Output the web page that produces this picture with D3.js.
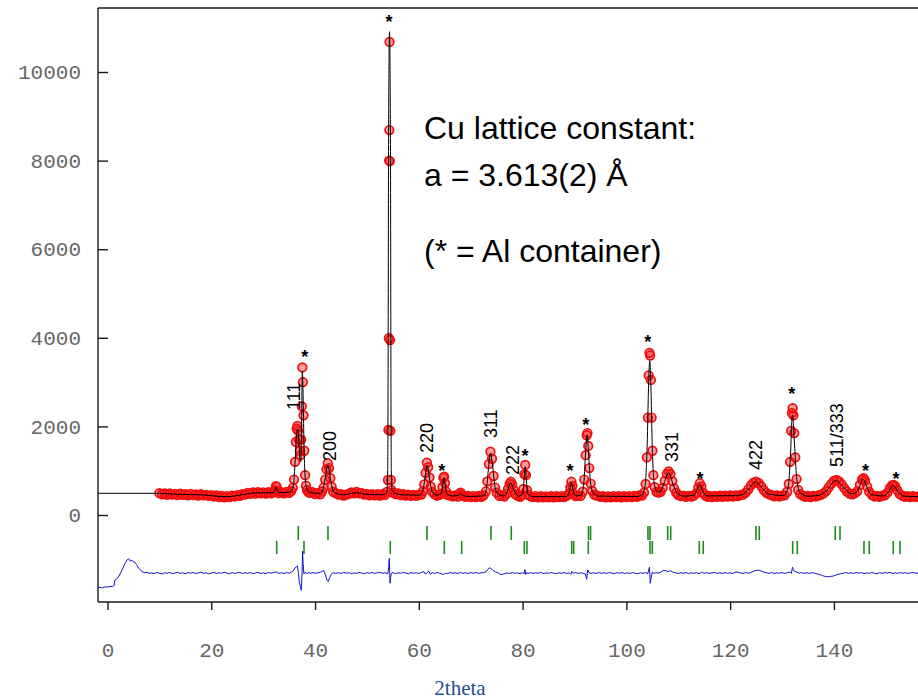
<!DOCTYPE html>
<html>
<head>
<meta charset="utf-8">
<script src="https://cdn.jsdelivr.net/npm/d3@7"></script>
<style>
  html, body { margin: 0; padding: 0; background: #fff; }
  svg { display: block; }
</style>
</head>
<body>
<script>
// ---- Data: Rietveld refinement of Cu powder in an Al container ----

// Observed intensities [2theta, counts]
const observed = [
  [10,492],[10.5,468],[11,485],[11.5,455],[12,490],[12.5,462],[13,478],[13.5,450],[14,482],[14.5,455],
  [15,470],[15.5,445],[16,478],[16.5,450],[17,466],[17.5,440],[18,468],[18.5,442],[19,456],[19.5,430],
  [20,450],[20.5,418],[21,440],[21.5,402],[22,430],[22.5,398],[23,428],[23.5,405],[24,436],[24.5,418],
  [25,450],[25.5,432],[26,470],[26.5,458],[27,498],[27.5,475],[28,510],[28.5,482],[29,515],[29.5,488],
  [30,512],[30.5,484],[31,515],[31.5,490],[32,512],[32.25,560],[32.45,650],[32.6,640],[32.8,540],[33,495],
  [33.5,518],[34,490],[34.5,520],[35,500],[35.4,540],[35.7,610],[35.95,800],[36.15,1200],[36.3,1650],[36.45,1950],
  [36.6,2010],[36.75,1900],[36.9,1700],[37.05,1450],[37.2,1350],[37.32,1700],[37.44,2450],[37.55,3330],[37.66,3000],[37.78,2250],
  [37.92,1450],[38.08,900],[38.25,660],[38.45,560],[38.7,515],[39,498],[39.5,515],[40,470],[40.5,495],[41,468],
  [41.35,530],[41.65,620],[41.95,800],[42.2,1030],[42.45,1170],[42.7,1060],[42.95,830],[43.2,640],[43.5,520],[44,495],
  [44.5,458],[45,470],[45.5,440],[46,462],[46.5,475],[47,508],[47.5,490],[48,522],[48.5,488],[49,496],
  [49.5,460],[50,478],[50.5,445],[51,470],[51.5,442],[52,468],[52.5,440],[53,472],[53.5,455],[53.85,520],
  [54.05,790],[54.15,1920],[54.22,3990],[54.28,8000],[54.32,8690],[54.36,10680],[54.41,7990],[54.46,3950],[54.52,1900],[54.6,790],
  [54.75,560],[55,505],[55.5,470],[56,485],[56.5,450],[57,468],[57.5,438],[58,460],[58.5,432],[59,455],
  [59.5,430],[60,458],[60.5,462],[60.8,540],[61.05,690],[61.3,950],[61.55,1180],[61.8,1080],[62.05,850],[62.3,640],
  [62.6,520],[63,470],[63.5,435],[64,455],[64.3,480],[64.55,630],[64.72,840],[64.88,865],[65.05,720],[65.25,530],
  [65.5,455],[66,440],[66.5,418],[67,445],[67.5,415],[67.85,475],[68.05,505],[68.3,450],[68.6,432],[69,408],
  [69.5,430],[70,402],[70.5,428],[71,405],[71.5,430],[72,410],[72.5,445],[72.9,530],[73.2,760],[73.5,1150],
  [73.8,1430],[74.1,1270],[74.4,880],[74.7,620],[75,505],[75.5,430],[76,440],[76.5,418],[76.9,480],[77.2,590],
  [77.5,710],[77.75,750],[78,690],[78.3,560],[78.6,470],[79,440],[79.5,412],[79.9,450],[80.15,590],[80.35,920],
  [80.5,1130],[80.65,900],[80.85,560],[81.1,455],[81.5,425],[82,402],[82.5,428],[83,398],[83.5,425],[84,396],
  [84.5,422],[85,400],[85.5,426],[86,398],[86.5,424],[87,402],[87.5,428],[88,405],[88.5,430],[88.9,475],
  [89.2,620],[89.4,750],[89.6,655],[89.85,480],[90.2,425],[90.7,438],[91.2,430],[91.6,525],[91.9,800],[92.15,1350],
  [92.35,1800],[92.5,1850],[92.65,1560],[92.85,1060],[93.1,710],[93.4,545],[93.8,460],[94.3,440],[95,410],[95.5,425],
  [96,398],[96.5,422],[97,400],[97.5,428],[98,402],[98.5,425],[99,398],[99.5,426],[100,404],[100.5,428],
  [101,405],[101.5,430],[102,412],[102.5,440],[103,438],[103.4,505],[103.7,700],[103.95,1300],[104.15,2200],[104.3,3150],
  [104.45,3660],[104.58,3600],[104.72,3050],[104.87,2200],[105.02,1450],[105.2,900],[105.45,630],[105.8,520],[106.2,505],[106.6,525],
  [107,610],[107.4,770],[107.8,930],[108.15,985],[108.5,925],[108.85,765],[109.2,600],[109.6,505],[110,448],[110.5,425],
  [111,435],[111.5,408],[112,430],[112.5,415],[113,440],[113.5,490],[113.85,620],[114.15,715],[114.45,645],[114.8,505],
  [115.2,440],[115.7,412],[116,432],[116.5,405],[117,430],[117.5,410],[118,435],[118.5,412],[119,438],[119.5,415],
  [120,440],[120.5,418],[121,445],[121.5,428],[122,452],[122.5,458],[123,505],[123.5,580],[124,670],[124.5,730],
  [125,752],[125.5,720],[126,645],[126.5,560],[127,500],[127.5,465],[128,448],[128.5,422],[129,440],[129.5,418],
  [130,438],[130.5,445],[131,525],[131.3,700],[131.55,1200],[131.75,1900],[131.9,2300],[132.05,2410],[132.2,2250],[132.35,1850],
  [132.55,1300],[132.8,810],[133.1,565],[133.5,470],[134,438],[134.5,412],[135,430],[135.5,405],[136,432],[136.5,418],
  [137,440],[137.5,455],[138,488],[138.5,540],[139,625],[139.5,705],[140,770],[140.5,792],[141,760],[141.5,690],
  [142,605],[142.5,530],[143,482],[143.5,468],[144,488],[144.5,535],[145,680],[145.4,800],[145.7,830],[146,780],
  [146.4,640],[146.8,520],[147.3,455],[147.8,418],[148.3,432],[148.8,410],[149.3,435],[149.8,445],[150.3,505],[150.8,610],
  [151.2,670],[151.5,682],[151.8,650],[152.2,560],[152.7,470],[153.2,430],[153.7,412],[154.2,428],[154.7,405],[155.2,425],
  [155.7,408],[156.2,422],[157,410]
];

// Calculated profile [2theta, counts]
const calculated = [
  [-1.83,490],[10,488],[12,475],[14,466],[16,462],[18,455],[20,436],[21.5,420],[23,414],[24.5,428],
  [26,460],[27.5,488],[29,500],[31.5,502],[32.1,510],[32.3,570],[32.5,630],[32.7,570],[32.95,508],[34,505],
  [35,512],[35.5,545],[35.9,740],[36.2,1300],[36.5,1900],[36.7,1940],[36.9,1600],[37.1,1250],[37.25,1200],[37.4,1900],
  [37.55,3250],[37.7,2700],[37.85,1700],[38.05,950],[38.3,640],[38.7,530],[39.5,500],[41,485],[41.5,560],[41.9,800],
  [42.45,1120],[42.95,840],[43.4,570],[44,490],[45.5,455],[47,490],[48,505],[49,485],[50.5,462],[53,458],
  [53.85,520],[54,1000],[54.05,2000],[54.1,4500],[54.17,8500],[54.35,10910],[54.53,8500],[54.6,4500],[54.65,2000],[54.7,1000],
  [54.85,560],[55.3,490],
  [57,455],[60,448],[60.7,520],[61.1,760],[61.6,1130],[62.1,790],[62.6,520],[63.5,450],[64.3,475],[64.6,660],
  [64.85,845],[65.1,660],[65.4,480],[66.5,430],[67.7,445],[68.05,490],[68.4,440],[70,418],[72.5,435],[73,570],
  [73.4,1020],[73.8,1400],[74.2,1130],[74.7,620],[75.3,470],[76.3,430],[77,520],[77.7,725],[78.4,545],[79.2,428],
  [80,470],[80.3,820],[80.5,1090],[80.7,820],[81,480],[82,415],[88.5,415],[89,530],[89.4,730],[89.8,520],
  [90.4,432],[91.3,455],[91.8,720],[92.2,1520],[92.45,1810],[92.7,1400],[93.1,720],[93.6,500],[94.5,428],[102,418],
  [103,452],[103.6,660],[104,1550],[104.3,3000],[104.5,3480],[104.7,3000],[105,1500],[105.4,690],[106,525],[106.5,525],
  [107.3,730],[108.15,955],[109,690],[109.8,490],[111,425],[113,445],[113.6,565],[114.15,690],[114.7,545],[115.5,430],
  [121,436],[122.5,470],[123.5,580],[124.9,742],[126.3,590],[127.5,470],[130.3,440],[131.2,640],[131.6,1300],[132,2260],
  [132.4,1600],[132.8,860],[133.4,510],[135,425],[137,442],[138.5,545],[140.3,775],[142,610],[143.3,480],[144.3,505],
  [145,660],[145.6,815],[146.3,650],[147.2,460],[149.5,430],[150.5,525],[151.4,665],[152.4,525],[153.5,425],[157,412]
];

// Difference curve (obs - calc, drawn with an offset) [2theta, counts]
const difference = [
  [-1.83,-1630],[-1,-1645],[-0.5,-1620],[0,-1630],[0.5,-1610],[1,-1615],[1.3,-1590],[1.4,-1470],[1.8,-1440],[2.2,-1380],
  [2.6,-1290],[3,-1190],[3.4,-1090],[3.8,-1010],[4.1,-990],[4.4,-1040],[4.7,-1020],[5,-1060],[5.3,-1070],[5.6,-1120],
  [6,-1200],[6.4,-1250],[6.8,-1285],[7.2,-1300],[7.6,-1290],[8,-1318],[8.5,-1305],[9,-1322],[9.5,-1298],[10,-1315],
  [10.5,-1330],[11,-1302],[11.5,-1318],[12,-1296],[12.5,-1325],[13,-1310],[13.5,-1292],[14,-1320],[14.5,-1305],[15,-1328],
  [15.5,-1300],[16,-1315],[16.5,-1297],[17,-1322],[17.5,-1308],[18,-1290],[18.5,-1318],[19,-1302],[19.5,-1326],[20,-1311],
  [20.5,-1295],[21,-1320],[21.5,-1304],[22,-1316],[22.5,-1292],[23,-1312],[23.5,-1327],[24,-1300],[24.5,-1318],[25,-1306],
  [25.5,-1294],[26,-1321],[26.5,-1303],[27,-1317],[27.5,-1298],[28,-1325],[28.5,-1309],[29,-1296],[29.5,-1319],[30,-1305],
  [30.5,-1322],[31,-1300],[31.5,-1314],[32,-1296],[32.5,-1285],[33,-1318],[33.5,-1304],[34,-1320],[34.5,-1300],[35,-1312],
  [35.5,-1290],[35.8,-1260],[36.1,-1200],[36.4,-1170],[36.6,-1150],[36.8,-1320],[37,-1540],[37.2,-1620],[37.35,-1700],[37.5,-1300],
  [37.6,-820],[37.7,-1100],[37.85,-1330],[38.1,-1290],[38.4,-1320],[38.8,-1300],[39.2,-1315],[39.6,-1298],[40,-1318],[40.5,-1304],
  [41,-1295],[41.4,-1270],[41.7,-1255],[42,-1350],[42.3,-1470],[42.55,-1500],[42.8,-1420],[43.1,-1340],[43.5,-1300],[44,-1318],
  [44.5,-1302],[45,-1320],[45.5,-1298],[46,-1314],[46.5,-1300],[47,-1325],[47.5,-1306],[48,-1318],[48.5,-1295],[49,-1312],
  [49.5,-1326],[50,-1300],[50.5,-1315],[51,-1298],[51.5,-1320],[52,-1307],[52.5,-1293],[53,-1318],[53.5,-1302],[54,-1330],
  [54.2,-1180],[54.3,-980],[54.38,-1250],[54.45,-1540],[54.55,-1420],[54.7,-1320],[55,-1300],[55.5,-1322],[56,-1305],[56.5,-1318],
  [57,-1296],[57.5,-1312],[58,-1325],[58.5,-1300],[59,-1316],[59.5,-1303],[60,-1320],[60.5,-1298],[61,-1280],[61.3,-1340],
  [61.6,-1300],[61.9,-1265],[62.2,-1335],[62.6,-1305],[63,-1318],[63.5,-1300],[64,-1312],[64.5,-1335],[64.8,-1345],[65.1,-1310],
  [65.5,-1325],[66,-1300],[66.5,-1316],[67,-1304],[67.5,-1322],[68,-1298],[68.5,-1315],[69,-1305],[69.5,-1320],[70,-1300],
  [70.5,-1314],[71,-1298],[71.5,-1318],[72,-1306],[72.5,-1300],[73,-1280],[73.3,-1230],[73.6,-1190],[73.9,-1210],[74.2,-1240],
  [74.5,-1265],[74.8,-1285],[75.2,-1300],[75.6,-1330],[76,-1345],[76.5,-1325],[77,-1310],[77.5,-1320],[78,-1300],[78.5,-1315],
  [79,-1305],[79.5,-1322],[80,-1300],[80.3,-1330],[80.45,-1230],[80.6,-1340],[80.8,-1305],[81.2,-1318],[81.5,-1300],[82,-1320],
  [82.5,-1304],[83,-1316],[83.5,-1298],[84,-1322],[84.5,-1306],[85,-1318],[85.5,-1300],[86,-1312],[86.5,-1325],[87,-1303],
  [87.5,-1317],[88,-1299],[88.5,-1320],[89,-1305],[89.3,-1340],[89.5,-1275],[89.8,-1315],[90.2,-1300],[90.7,-1318],[91.2,-1302],
  [91.7,-1320],[92.1,-1330],[92.35,-1450],[92.55,-1240],[92.8,-1300],[93.2,-1322],[93.7,-1305],[94.2,-1318],[94.7,-1300],[95.2,-1316],
  [95.7,-1303],[96.2,-1320],[96.7,-1298],[97.2,-1312],[97.7,-1325],[98.2,-1302],[98.7,-1316],[99.2,-1299],[99.7,-1320],[100.2,-1306],
  [100.7,-1318],[101.2,-1300],[101.7,-1314],[102.2,-1327],[102.7,-1303],[103.2,-1318],[103.7,-1300],[104.1,-1330],[104.3,-1240],[104.45,-1180],
  [104.6,-1540],[104.8,-1400],[105,-1290],[105.3,-1320],[105.7,-1300],[106.1,-1314],[106.6,-1290],[107,-1260],[107.5,-1255],[108,-1275],
  [108.5,-1260],[109,-1290],[109.5,-1305],[110,-1320],[110.5,-1302],[111,-1316],[111.5,-1300],[112,-1322],[112.5,-1305],[113,-1318],
  [113.5,-1300],[114,-1325],[114.5,-1296],[115,-1314],[115.5,-1302],[116,-1320],[116.5,-1306],[117,-1298],[117.5,-1318],[118,-1304],
  [118.5,-1322],[119,-1300],[119.5,-1315],[120,-1303],[120.5,-1320],[121,-1290],[121.5,-1288],[122,-1310],[122.5,-1318],[123,-1300],
  [123.5,-1314],[124,-1296],[124.5,-1270],[125,-1250],[125.5,-1245],[126,-1265],[126.5,-1290],[127,-1305],[127.5,-1318],[128,-1300],
  [128.5,-1322],[129,-1306],[129.5,-1315],[130,-1298],[130.5,-1320],[131,-1304],[131.5,-1290],[131.8,-1320],[132,-1180],[132.2,-1250],
  [132.5,-1275],[132.9,-1290],[133.3,-1310],[133.8,-1300],[134.3,-1318],[134.8,-1304],[135.3,-1320],[135.8,-1300],[136.3,-1316],[136.8,-1330],
  [137.3,-1345],[137.8,-1370],[138.3,-1385],[138.8,-1395],[139.3,-1388],[139.8,-1380],[140.3,-1360],[140.8,-1340],[141.3,-1325],[141.8,-1315],
  [142.3,-1300],[142.8,-1318],[143.3,-1305],[143.8,-1320],[144.3,-1298],[144.8,-1312],[145.3,-1300],[145.8,-1322],[146.3,-1306],[146.8,-1318],
  [147.3,-1300],[147.8,-1315],[148.3,-1325],[148.8,-1302],[149.3,-1318],[149.8,-1300],[150.3,-1312],[150.8,-1296],[151.3,-1320],[151.8,-1305],
  [152.3,-1318],[152.8,-1300],[153.3,-1315],[153.8,-1302],[154.3,-1320],[154.8,-1306],[155.3,-1298],[155.8,-1316],[156.3,-1304],[157,-1312]
];

// Bragg reflection positions (2theta): Cu sample and Al container
const cuReflections = [36.77, 42.49, 61.57, 73.91, 77.82, 92.7, 93.1, 104.16, 104.55, 107.96, 108.54, 124.98, 125.62, 140.26, 141.17];
const alReflections = [32.61, 37.87, 54.5, 64.91, 68.26, 80.33, 80.84, 89.46, 89.85, 92.66, 104.55, 105.0, 114.05, 114.82, 132.05, 132.94, 145.79, 146.81, 151.44, 152.73];

// Cu (hkl) labels, anchored at [2theta, counts]
const hklLabels = ["111", "200", "220", "311", "222", "331", "422", "511/333"];
const hklTheta  = [37.10, 44.04, 62.73, 75.05, 79.31, 109.95, 126.13, 141.74];
const hklCounts = [2370, 1219, 1400, 1738, 903, 1196, 1016, 1084];

// Al container peaks marked with "*"
const alMarkTheta  = [38.0, 54.25, 64.4, 80.46, 89.13, 92.16, 104.1, 114.2, 131.86, 146.1, 151.96];
const alMarkCounts = [3657, 11219, 1090, 1429, 1090, 2129, 4011, 903, 2822, 1090, 903];

// Axis ticks
const xTicks = [0, 20, 40, 60, 80, 100, 120, 140];
const yTicks = [0, 2000, 4000, 6000, 8000, 10000];

const noteLines = ["Cu lattice constant:", "a = 3.613(2) \u00C5", "(* = Al container)"];

// ---- Drawing ----
const W = 918, H = 699;
const plotLeft = 98, plotTop = 8, plotBottom = 602;

const x = d3.scaleLinear().domain([-1.83, 160]).range([plotLeft, 937.7]);
const y = d3.scaleLinear().domain([-1964, 11445]).range([plotBottom, plotTop]);

const svg = d3.select("body").append("svg")
  .attr("width", W).attr("height", H)
  .attr("viewBox", `0 0 ${W} ${H}`);

const monoFont = "'Liberation Mono', 'Courier New', monospace";
const sansFont = "'Liberation Sans', Arial, sans-serif";

// Plot frame
const frame = svg.append("g").attr("stroke", "#1a1a1a").attr("stroke-width", 1.4).attr("fill", "none");
frame.append("line").attr("x1", plotLeft).attr("x2", plotLeft).attr("y1", plotTop).attr("y2", plotBottom);
frame.append("line").attr("x1", plotLeft).attr("x2", W).attr("y1", plotTop).attr("y2", plotTop);
frame.append("line").attr("x1", plotLeft).attr("x2", W).attr("y1", plotBottom).attr("y2", plotBottom);

// Y axis (ticks point into the plot)
const yAxis = svg.append("g")
  .attr("transform", `translate(${plotLeft},0)`)
  .call(d3.axisLeft(y).tickValues(yTicks).tickSize(-10).tickPadding(17).tickFormat(d => String(d)));
yAxis.select(".domain").remove();
yAxis.selectAll(".tick line").attr("stroke", "#1a1a1a").attr("stroke-width", 1.4);
yAxis.selectAll(".tick text").attr("font-family", monoFont).attr("font-size", 21).attr("fill", "#666");

// X axis
const xAxis = svg.append("g")
  .attr("transform", `translate(0,${plotBottom})`)
  .call(d3.axisBottom(x).tickValues(xTicks).tickSize(8).tickPadding(32).tickFormat(d => String(d)));
xAxis.select(".domain").remove();
xAxis.selectAll(".tick line").attr("stroke", "#1a1a1a").attr("stroke-width", 1.4);
xAxis.selectAll(".tick text").attr("font-family", monoFont).attr("font-size", 21).attr("fill", "#666");

svg.append("text")
  .attr("x", 460).attr("y", 695)
  .attr("text-anchor", "middle")
  .attr("font-family", "'Liberation Serif', 'Times New Roman', serif")
  .attr("font-size", 21)
  .attr("fill", "#1f4f8f")
  .text("2theta");

const plot = svg.append("g");

// Observed points (red circles)
plot.append("g")
  .selectAll("circle")
  .data(observed)
  .join("circle")
  .attr("cx", d => x(d[0]))
  .attr("cy", d => y(d[1]))
  .attr("r", 4.3)
  .attr("fill", "rgba(255,10,10,0.4)")
  .attr("stroke", "#ee0f0f")
  .attr("stroke-width", 1.7);

// Calculated profile
plot.append("path")
  .datum(calculated)
  .attr("fill", "none")
  .attr("stroke", "#000")
  .attr("stroke-width", 1)
  .attr("d", d3.line().x(d => x(d[0])).y(d => y(d[1])).curve(d3.curveMonotoneX));

// Reflection markers
const y0 = y(0);
plot.append("g")
  .attr("stroke", "#1e8a1e").attr("stroke-width", 1.6)
  .selectAll("line")
  .data(cuReflections)
  .join("line")
  .attr("x1", d => x(d)).attr("x2", d => x(d))
  .attr("y1", y0 + 11).attr("y2", y0 + 25);
plot.append("g")
  .attr("stroke", "#1e8a1e").attr("stroke-width", 1.6)
  .selectAll("line")
  .data(alReflections)
  .join("line")
  .attr("x1", d => x(d)).attr("x2", d => x(d))
  .attr("y1", y0 + 26).attr("y2", y0 + 39);

// Difference curve
plot.append("path")
  .datum(difference)
  .attr("fill", "none")
  .attr("stroke", "#1010d0")
  .attr("stroke-width", 1)
  .attr("d", d3.line().x(d => x(d[0])).y(d => y(d[1])));

// (hkl) labels, rotated
plot.append("g")
  .selectAll("text")
  .data(hklLabels)
  .join("text")
  .attr("transform", (d, i) => `translate(${x(hklTheta[i])},${y(hklCounts[i])}) rotate(-90)`)
  .attr("font-family", sansFont)
  .attr("font-size", 18)
  .attr("fill", "#000")
  .text(d => d);

// Al container markers
plot.append("g")
  .selectAll("text")
  .data(alMarkTheta)
  .join("text")
  .attr("x", d => x(d))
  .attr("y", (d, i) => y(alMarkCounts[i]))
  .attr("dy", "0.58em")
  .attr("text-anchor", "middle")
  .attr("font-family", sansFont)
  .attr("font-size", 18)
  .attr("font-weight", "bold")
  .attr("fill", "#000")
  .text("*");

// Note block
const noteY = [139, 186, 262];
svg.append("g")
  .selectAll("text")
  .data(noteLines)
  .join("text")
  .attr("x", 424)
  .attr("y", (d, i) => noteY[i])
  .attr("font-family", sansFont)
  .attr("font-size", 32)
  .attr("fill", "#000")
  .text(d => d);
</script>
</body>
</html>
